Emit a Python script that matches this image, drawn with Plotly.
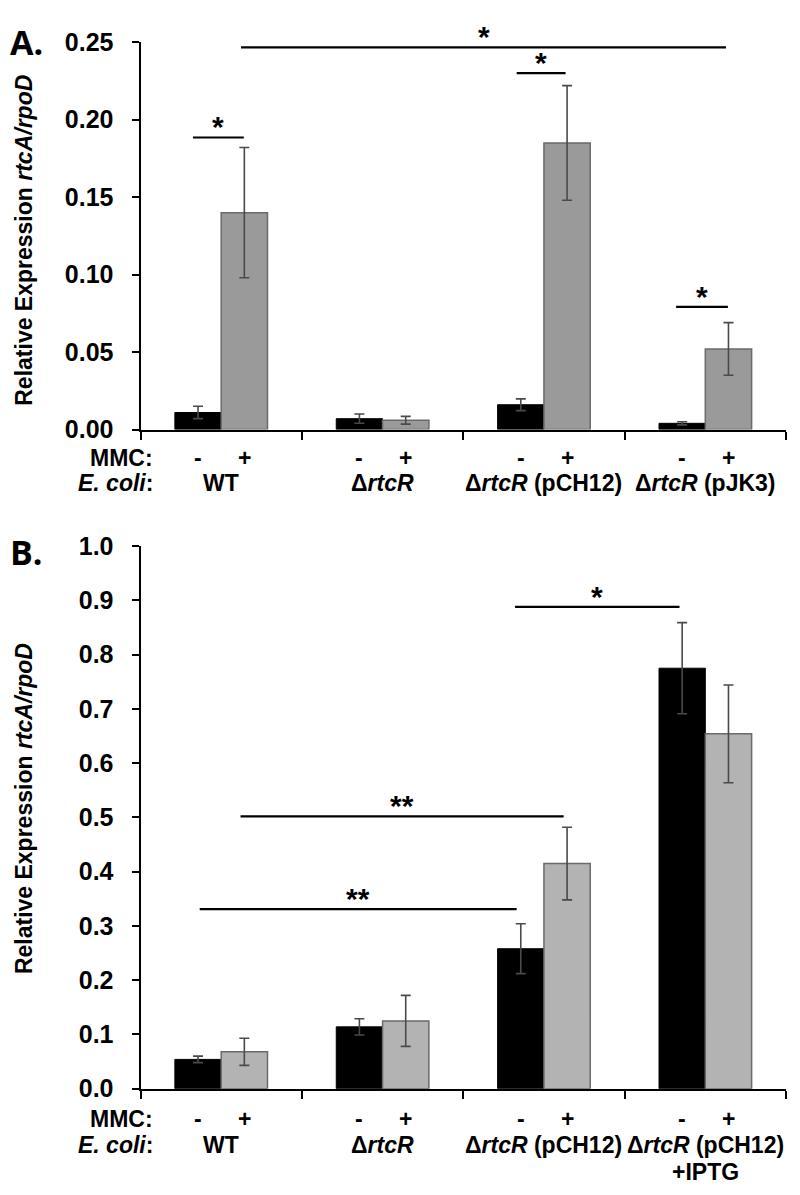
import plotly.graph_objects as go

W, H = 800, 1195

# ---------------- data ----------------
strains_a = ["WT", "ΔrtcR", "ΔrtcR (pCH12)", "ΔrtcR (pJK3)"]
labels_a = ["WT", "Δ<i>rtcR</i>", "Δ<i>rtcR</i> (pCH12)", "Δ<i>rtcR</i> (pJK3)"]
a_minus = [0.011, 0.007, 0.016, 0.004]
a_minus_err = [0.0040, 0.0030, 0.0038, 0.0010]
a_plus = [0.140, 0.006, 0.185, 0.052]
a_plus_err = [0.042, 0.0025, 0.037, 0.017]
a_ticks = [0.00, 0.05, 0.10, 0.15, 0.20, 0.25]

strains_b = ["WT", "ΔrtcR", "ΔrtcR (pCH12)", "ΔrtcR (pCH12) +IPTG"]
labels_b = ["WT", "Δ<i>rtcR</i>", "Δ<i>rtcR</i> (pCH12)", "Δ<i>rtcR</i> (pCH12)"]
extra_b = ["", "", "", "+IPTG"]
b_minus = [0.054, 0.114, 0.258, 0.775]
b_minus_err = [0.006, 0.015, 0.046, 0.084]
b_plus = [0.068, 0.125, 0.415, 0.654]
b_plus_err = [0.025, 0.047, 0.067, 0.090]
b_ticks = [0.0, 0.1, 0.2, 0.3, 0.4, 0.5, 0.6, 0.7, 0.8, 0.9, 1.0]

mmc_signs = ["-", "+"]

# significance brackets: (start, end in category units, height, label)
sig_a = [(-0.175, 0.140, 0.1885, "*"), (0.123, 3.128, 0.2467, "*"),
         (1.831, 2.134, 0.230, "*"), (2.819, 3.140, 0.0792, "*")]
sig_b = [(1.821, 2.840, 0.888, "*"), (0.120, 2.122, 0.502, "**"),
         (-0.133, 1.831, 0.331, "**")]

# ---------------- layout geometry (pixels) ----------------
X0, X1 = 132.5, 778.0
A_TOP, A_BOT = 20.7, 417.3
B_TOP, B_BOT = 536.7, 1092.3


def py(p):
    return 1 - p / H


def px(p):
    return p / W


FONT = "Liberation Sans, Arial, sans-serif"
BLACK = "#000000"
GRAY_A = "#9a9a9a"
GRAY_B = "#b3b3b3"
EDGE = "#6a6a6a"
ERR = "#4a4a4a"

fig = go.Figure()


def add_panel(xa, ya, strains, minus, minus_err, plus, plus_err, gray):
    fig.add_trace(go.Bar(
        x=strains, y=minus, xaxis=xa, yaxis=ya, name="-",
        marker=dict(color=BLACK, line=dict(color=BLACK, width=1)),
        error_y=dict(type="data", array=minus_err, color=ERR, thickness=1.6, width=5),
        showlegend=False))
    fig.add_trace(go.Bar(
        x=strains, y=plus, xaxis=xa, yaxis=ya, name="+",
        marker=dict(color=gray, line=dict(color=EDGE, width=1.5)),
        error_y=dict(type="data", array=plus_err, color=ERR, thickness=1.6, width=5),
        showlegend=False))


add_panel("x", "y", strains_a, a_minus, a_minus_err, a_plus, a_plus_err, GRAY_A)
add_panel("x2", "y2", strains_b, b_minus, b_minus_err, b_plus, b_plus_err, GRAY_B)

tickfont = dict(family=FONT, size=25, color="black", weight="bold")

xcommon = dict(type="category", tickson="boundaries", ticks="outside", ticklen=8,
               tickwidth=2, tickcolor="black", showticklabels=False,
               showline=True, linecolor="black", linewidth=2, showgrid=False,
               zeroline=False, range=[-0.5, 3.5], fixedrange=True)
ycommon = dict(ticks="outside", ticklen=7, tickwidth=2, tickcolor="black",
               showline=True, linecolor="black", linewidth=2, showgrid=False,
               zeroline=False, tickfont=tickfont, ticklabelstandoff=13)

fig.update_layout(
    width=W, height=H, margin=dict(l=0, r=0, t=0, b=0),
    paper_bgcolor="white", plot_bgcolor="white",
    barmode="group", bargap=0.426, bargroupgap=0,
    xaxis=dict(domain=[px(X0), px(X1)], anchor="y", **xcommon),
    yaxis=dict(domain=[py(A_BOT), py(A_TOP)], anchor="x", range=[0, 0.25],
               tickvals=a_ticks, ticktext=[f"{v:.2f}" for v in a_ticks], **ycommon),
    xaxis2=dict(domain=[px(X0), px(X1)], anchor="y2", **xcommon),
    yaxis2=dict(domain=[py(B_BOT), py(B_TOP)], anchor="x2", range=[0, 1.0],
                tickvals=b_ticks, ticktext=[f"{v:.1f}" for v in b_ticks], **ycommon),
)

ann = []
shapes = []


def sig(xa, ya, items):
    for x0, x1, yv, lab in items:
        shapes.append(dict(type="line", xref=xa, yref=ya, x0=x0, x1=x1, y0=yv, y1=yv,
                           line=dict(color="black", width=2.2)))
        ann.append(dict(xref=xa, yref=ya, x=(x0 + x1) / 2, y=yv, text=lab,
                        showarrow=False, yanchor="bottom", yshift=-8,
                        font=dict(family=FONT, size=30, color="black", weight="bold")))


sig("x", "y", sig_a)
sig("x2", "y2", sig_b)

lab_font = dict(family=FONT, size=23, color="black", weight="bold")


def row_labels(xa, strains, labels, mmc_y, coli_y, extra=None, extra_y=None):
    ann.append(dict(xref="paper", yref="paper", x=px(147), y=py(mmc_y), text="MMC:",
                    xanchor="right", yanchor="middle", showarrow=False, font=lab_font))
    ann.append(dict(xref="paper", yref="paper", x=px(147), y=py(coli_y),
                    text="<i>E. coli</i>:", xanchor="right", yanchor="middle",
                    showarrow=False, font=lab_font))
    for i, s in enumerate(strains):
        for j, sgn in enumerate(mmc_signs):
            ann.append(dict(xref=xa, yref="paper", x=i + (j - 0.5) * 0.287, y=py(mmc_y),
                            text=sgn, showarrow=False, yanchor="middle", font=lab_font))
        ann.append(dict(xref=xa, yref="paper", x=i, y=py(coli_y), text=labels[i],
                        showarrow=False, yanchor="middle", font=lab_font))
        if extra and extra[i]:
            ann.append(dict(xref=xa, yref="paper", x=i, y=py(extra_y), text=extra[i],
                            showarrow=False, yanchor="middle", font=lab_font))


row_labels("x", strains_a, labels_a, 446, 472)
row_labels("x2", strains_b, labels_b, 1123, 1150, extra_b, 1178)

title_font = dict(family=FONT, size=23, color="black", weight="bold")
ytitle = "Relative Expression <i>rtcA/rpoD</i>"
ann.append(dict(xref="paper", yref="paper", x=px(16), y=py(224), text=ytitle,
                textangle=-90, showarrow=False, xanchor="center", yanchor="middle",
                font=title_font))
ann.append(dict(xref="paper", yref="paper", x=px(16), y=py(806), text=ytitle,
                textangle=-90, showarrow=False, xanchor="center", yanchor="middle",
                font=title_font))

panel_font = dict(family="Open Sans, sans-serif", size=34, color="black", weight="bold")
ann.append(dict(xref="paper", yref="paper", x=px(0), y=py(20), text="A.",
                xanchor="left", yanchor="middle", showarrow=False, font=panel_font))
ann.append(dict(xref="paper", yref="paper", x=px(0), y=py(543), text="B.",
                xanchor="left", yanchor="middle", showarrow=False, font=panel_font))

fig.update_layout(annotations=ann, shapes=shapes)
fig.write_html("out.html")
